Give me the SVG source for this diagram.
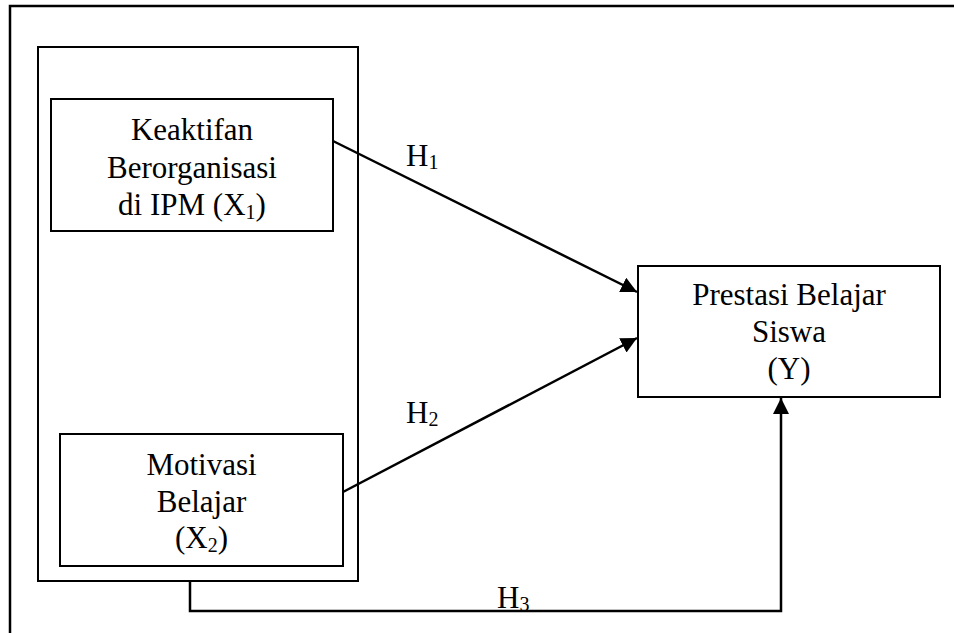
<svg xmlns="http://www.w3.org/2000/svg" width="954" height="633" viewBox="0 0 954 633">
<defs>
<style>
.box{fill:#fff;stroke:#000;stroke-width:2}
.ln{fill:none;stroke:#000;stroke-width:2.5}
.t{font-family:"Liberation Serif","Times New Roman",serif;font-size:31px;fill:#000;text-anchor:middle}
.h{font-family:"Liberation Serif","Times New Roman",serif;font-size:31px;fill:#000}
.sub{font-size:20px}
</style>
<marker id="ah" markerUnits="userSpaceOnUse" markerWidth="18" markerHeight="18" refX="16" refY="8" orient="auto">
<path d="M0,0 L16,8 L0,16 z" fill="#000"/>
</marker>
</defs>
<rect width="954" height="633" fill="#fff"/>
<g id="frame"><path d="M10,633 L10,6 L954,6" fill="none" stroke="#000" stroke-width="2.5"/></g>
<g id="group-x"><rect class="box" x="38" y="47" width="320" height="534"/></g>
<g id="x1">
<rect class="box" x="51" y="99" width="282" height="132"/>
<text class="t" x="192" y="140">Keaktifan</text>
<text class="t" x="192" y="177.5">Berorganisasi</text>
<text class="t" x="192" y="215">di IPM (X<tspan class="sub" dy="4">1</tspan><tspan dy="-4">)</tspan></text>
</g>
<g id="x2">
<rect class="box" x="60" y="434" width="283" height="132"/>
<text class="t" x="201.5" y="475">Motivasi</text>
<text class="t" x="201.5" y="511.5">Belajar</text>
<text class="t" x="201.5" y="548">(X<tspan class="sub" dy="4">2</tspan><tspan dy="-4">)</tspan></text>
</g>
<g id="y">
<rect class="box" x="638" y="266" width="302" height="131"/>
<text class="t" x="789" y="305">Prestasi Belajar</text>
<text class="t" x="789" y="342">Siswa</text>
<text class="t" x="789" y="379">(Y)</text>
</g>
<g id="connectors">
<line class="ln" x1="333" y1="141" x2="637" y2="292" marker-end="url(#ah)"/>
<line class="ln" x1="343" y1="492" x2="637" y2="338" marker-end="url(#ah)"/>
<path class="ln" d="M190,581 L190,611 L781,611 L781,398" marker-end="url(#ah)"/>
<text class="h" x="406" y="166">H<tspan class="sub" dy="3">1</tspan></text>
<text class="h" x="406" y="423">H<tspan class="sub" dy="3">2</tspan></text>
<text class="h" x="497" y="608">H<tspan class="sub" dy="3">3</tspan></text>
</g>
</svg>
